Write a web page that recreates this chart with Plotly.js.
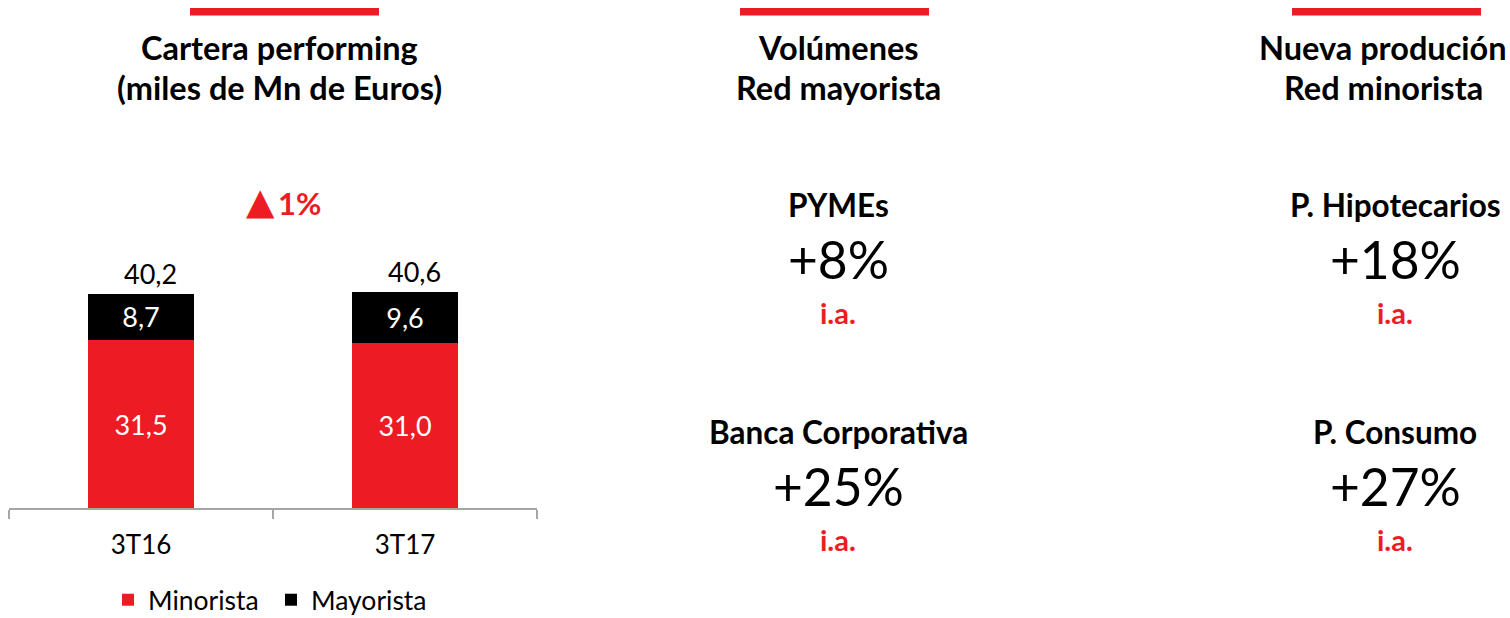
<!DOCTYPE html>
<html>
<head>
<meta charset="utf-8">
<script src="https://cdn.plot.ly/plotly-3.0.1.min.js"></script>
<style>html,body{margin:0;padding:0;background:#fff;}#chart{width:1510px;height:618px;}</style>
</head>
<body>
<div id="chart"></div>
<script>
// ---- data ----
const periods = ['3T16', '3T17'];
const minorista = [31.5, 31.0];
const mayorista = [8.7, 9.6];
const seriesNames = ['Minorista', 'Mayorista'];
const growthSymbol = '▲';
const growthLabel = '1%';

const panelTitles = [
  ['Cartera performing', '(miles de Mn de Euros)'],
  ['Volúmenes', 'Red mayorista'],
  ['Nueva produción', 'Red minorista']
];
const volCategories = ['PYMEs', 'Banca Corporativa'];
const volGrowth = ['+8%', '+25%'];
const prodCategories = ['P. Hipotecarios', 'P. Consumo'];
const prodGrowth = ['+18%', '+27%'];
const growthNote = 'i.a.';

// ---- helpers ----
const W = 1510, H = 618;
const RED = '#ED1C24';
const FONT = 'Lato, Carlito, "Open Sans", sans-serif';
const px = x => x / W;
const py = y => 1 - y / H;
const fmt = v => v.toFixed(1).replace('.', ',');

const totals = periods.map((p, i) => Math.round((minorista[i] + mayorista[i]) * 10) / 10);

const traces = [
  {
    type: 'bar', name: seriesNames[0], x: periods, y: minorista,
    marker: { color: RED, line: { width: 0 } },
    texttemplate: '%{y:.1f}', textposition: 'inside', insidetextanchor: 'middle',
    textfont: { family: FONT, size: 27, color: '#ffffff' },
    hoverinfo: 'skip', legend: 'legend'
  },
  {
    type: 'bar', name: seriesNames[1], x: periods, y: mayorista,
    marker: { color: '#000000', line: { width: 0 } },
    texttemplate: '%{y:.1f}', textposition: 'inside', insidetextanchor: 'middle',
    textfont: { family: FONT, size: 27, color: '#ffffff' },
    hoverinfo: 'skip', legend: 'legend2'
  }
];

const annotations = [];
// totals above bars
periods.forEach((p, i) => {
  annotations.push({
    xref: 'x', yref: 'y', x: p, y: totals[i], text: fmt(totals[i]),
    showarrow: false, yanchor: 'bottom', xshift: 9, yshift: 2,
    font: { family: FONT, size: 27, color: '#000' }
  });
});
// growth
annotations.push({
  xref: 'paper', yref: 'paper', x: px(260), y: py(201),
  text: growthSymbol,
  showarrow: false, xanchor: 'center', yanchor: 'middle',
  font: { family: '"DejaVu Sans", sans-serif', size: 37, color: RED }
});
annotations.push({
  xref: 'paper', yref: 'paper', x: px(299.5), y: py(203),
  text: '<b>' + growthLabel + '</b>',
  showarrow: false, xanchor: 'center', yanchor: 'middle',
  font: { family: FONT, size: 31, color: RED }
});
// panel titles
const titleCenters = [279, 838, 1383];
panelTitles.forEach((lines, i) => {
  annotations.push({
    xref: 'paper', yref: 'paper', x: px(titleCenters[i]), y: py(48), text: '<b>' + lines[0] + '</b>',
    showarrow: false, xanchor: 'center', yanchor: 'middle',
    font: { family: FONT, size: 32.5, color: '#000' }
  });
  annotations.push({
    xref: 'paper', yref: 'paper', x: px(titleCenters[i]), y: py(88), text: '<b>' + lines[1] + '</b>',
    showarrow: false, xanchor: 'center', yanchor: 'middle',
    font: { family: FONT, size: 32.5, color: '#000' }
  });
});
// metric blocks
function block(cx, yTop, cat, val) {
  annotations.push({
    xref: 'paper', yref: 'paper', x: px(cx), y: py(yTop), text: '<b>' + cat + '</b>',
    showarrow: false, xanchor: 'center', yanchor: 'middle',
    font: { family: FONT, size: 31.5, color: '#000' }
  });
  annotations.push({
    xref: 'paper', yref: 'paper', x: px(cx), y: py(yTop + 54), text: val,
    showarrow: false, xanchor: 'center', yanchor: 'middle',
    font: { family: FONT, size: 51.5, color: '#000' }
  });
  annotations.push({
    xref: 'paper', yref: 'paper', x: px(cx), y: py(yTop + 107), text: '<b>' + growthNote + '</b>',
    showarrow: false, xanchor: 'center', yanchor: 'middle',
    font: { family: FONT, size: 29, color: RED }
  });
}
block(838, 205, volCategories[0], volGrowth[0]);
block(838, 432, volCategories[1], volGrowth[1]);
block(1395, 205, prodCategories[0], prodGrowth[0]);
block(1395, 432, prodCategories[1], prodGrowth[1]);

// red lines at the top
const shapes = [[190, 379], [740, 929], [1292, 1481]].map(([a, b]) => ({
  type: 'rect', xref: 'paper', yref: 'paper', x0: px(a), x1: px(b), y0: py(15.5), y1: py(8),
  fillcolor: RED, line: { width: 0 }
}));

const legendBase = {
  orientation: 'h', xanchor: 'left', y: py(600), yanchor: 'middle',
  font: { family: FONT, size: 26.5, color: '#000' },
  bgcolor: 'rgba(0,0,0,0)',
  itemclick: false, itemdoubleclick: false
};

const layout = {
  width: W, height: H,
  margin: { l: 0, r: 0, t: 0, b: 0, autoexpand: false },
  paper_bgcolor: '#fff', plot_bgcolor: '#fff',
  separators: ',.',
  barmode: 'stack', bargap: 0.6,
  showlegend: true,
  legend: Object.assign({}, legendBase, { x: px(108) }),
  legend2: Object.assign({}, legendBase, { x: px(271) }),
  xaxis: {
    type: 'category', domain: [px(9), px(537)], automargin: false,
    showline: true, linecolor: '#A6A6A6', linewidth: 1.5,
    ticks: 'outside', tickson: 'boundaries', ticklen: 9, tickcolor: '#A6A6A6', tickwidth: 1.5,
    ticklabelstandoff: 13,
    tickfont: { family: FONT, size: 26, color: '#000' },
    showgrid: false, zeroline: false, fixedrange: true
  },
  yaxis: {
    domain: [py(508), py(200)], range: [0, 308 / 5.33], automargin: false,
    visible: false, showgrid: false, zeroline: false, fixedrange: true
  },
  uniformtext: { mode: false },
  annotations: annotations,
  shapes: shapes,
  font: { family: FONT }
};

Plotly.newPlot('chart', traces, layout, { displayModeBar: false, staticPlot: true });
</script>
</body>
</html>
